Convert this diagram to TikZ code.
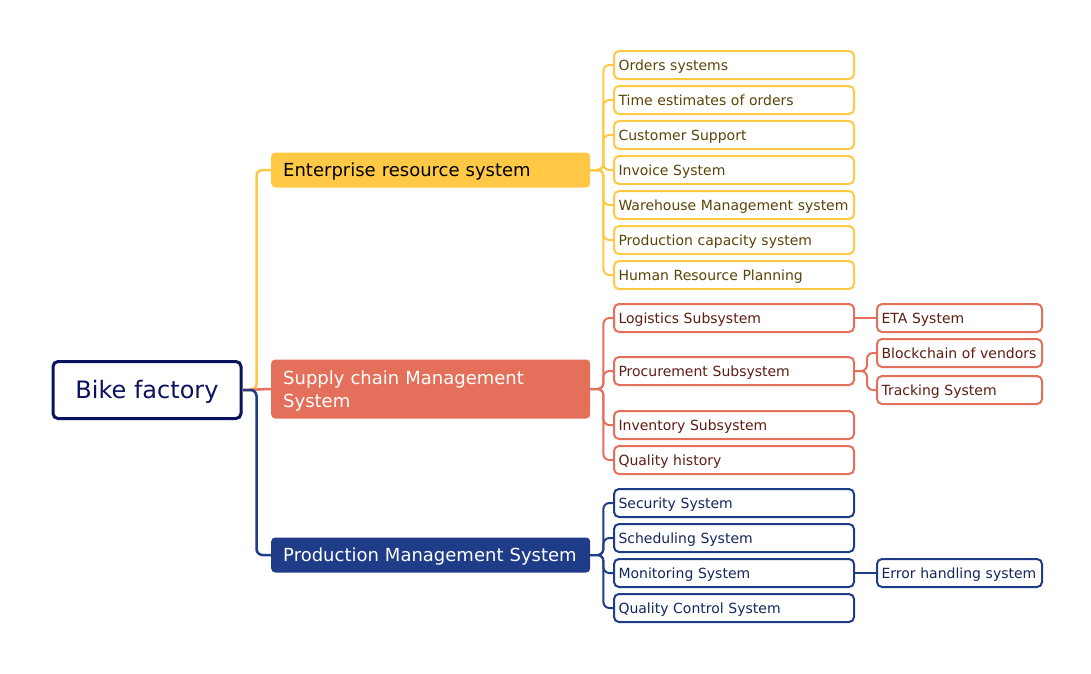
\documentclass[tikz,border=0pt]{standalone}
\usepackage{fontspec}
\setmainfont{DejaVu Sans}
\definecolor{yel}{HTML}{FFC845}
\definecolor{redc}{HTML}{E46F5A}
\definecolor{navy}{HTML}{1F3C88}
\definecolor{cen}{HTML}{0B125E}
\definecolor{yeltxt}{HTML}{5C4406}
\definecolor{redtxt}{HTML}{5E1D12}
\definecolor{navytxt}{HTML}{14265E}
\begin{document}
\begin{tikzpicture}[x=1pt,y=-1pt,
  central/.style={draw=cen,line width=3pt,fill=white,rounded corners=5pt,minimum width=188pt,minimum height=57pt,inner sep=0pt,text=cen,text height=18pt,text depth=1pt,font=\fontsize{24}{28}\selectfont},
  mainbox/.style={rounded corners=4pt,anchor=west,text width=295pt,inner xsep=12pt,inner ysep=0pt,minimum height=35pt,align=left,text=white,font=\fontsize{18}{23.5}\selectfont},
  oneline/.style={text height=15pt,text depth=2pt},
  leaf/.style={draw,fill=white,line width=2pt,rounded corners=5pt,anchor=west,text width=231pt,inner xsep=4.5pt,inner ysep=0pt,minimum height=28pt,align=left,text height=11.5pt,text depth=1.5pt,font=\fontsize{14}{17}\selectfont},
  subleaf/.style={leaf,text width=156pt},
  con/.style={line width=2pt,rounded corners=6pt},
  bigcon/.style={line width=2.5pt,rounded corners=6pt},
  yl/.style={leaf,draw=yel,text=yeltxt},
  rl/.style={leaf,draw=redc,text=redtxt},
  nl/.style={leaf,draw=navy,text=navytxt},
  rs/.style={subleaf,draw=redc,text=redtxt},
  ns/.style={subleaf,draw=navy,text=navytxt}]
\useasboundingbox (0,0) rectangle (1091,673);

\node[central] (bf) at (147,390) {Bike factory};

\node[mainbox,oneline,fill=yel,text=black] (erp) at (271,170) {Enterprise resource system};
\node[mainbox,fill=redc,minimum height=59pt] (scm) at (271,389) {\rule{0pt}{17.5pt}Supply chain Management\\System};
\node[mainbox,oneline,fill=navy] (pms) at (271,555) {Production Management System};

% ERP leaves
\node[yl] (e1) at (613,65) {Orders systems};
\node[yl] (e2) at (613,100) {Time estimates of orders};
\node[yl] (e3) at (613,135) {Customer Support};
\node[yl] (e4) at (613,170) {Invoice System};
\node[yl] (e5) at (613,205) {Warehouse Management system};
\node[yl] (e6) at (613,240) {Production capacity system};
\node[yl] (e7) at (613,275) {Human Resource Planning};

% SCM leaves
\node[rl] (s1) at (613,318) {Logistics Subsystem};
\node[rl] (s2) at (613,371) {Procurement Subsystem};
\node[rl] (s3) at (613,425) {Inventory Subsystem};
\node[rl] (s4) at (613,460) {Quality history};
\node[rs] (s11) at (876,318) {ETA System};
\node[rs] (s21) at (876,353) {Blockchain of vendors};
\node[rs] (s22) at (876,390) {Tracking System};

% PMS leaves
\node[nl] (p1) at (613,503) {Security System};
\node[nl] (p2) at (613,538) {Scheduling System};
\node[nl] (p3) at (613,573) {Monitoring System};
\node[nl] (p4) at (613,608) {Quality Control System};
\node[ns] (p31) at (876,573) {Error handling system};

% central connectors
\draw[bigcon,yel] (bf.east) -- ++(14,0) |- (erp.west);
\draw[bigcon,redc] (bf.east) -- (scm.west);
\draw[bigcon,navy] (bf.east) -- ++(14,0) |- (pms.west);

% ERP connectors
\foreach \n in {e1,e2,e3,e4,e5,e6,e7}
  \draw[con,yel] (erp.east) -- ++(13,0) |- (\n.west);
% SCM connectors
\foreach \n in {s1,s2,s3,s4}
  \draw[con,redc] (scm.east) -- ++(13,0) |- (\n.west);
\draw[con,redc] (s1.east) -- (s11.west);
\foreach \n in {s21,s22}
  \draw[con,redc] (s2.east) -- ++(12,0) |- (\n.west);
% PMS connectors
\foreach \n in {p1,p2,p3,p4}
  \draw[con,navy] (pms.east) -- ++(13,0) |- (\n.west);
\draw[con,navy] (p3.east) -- (p31.west);
\end{tikzpicture}
\end{document}
